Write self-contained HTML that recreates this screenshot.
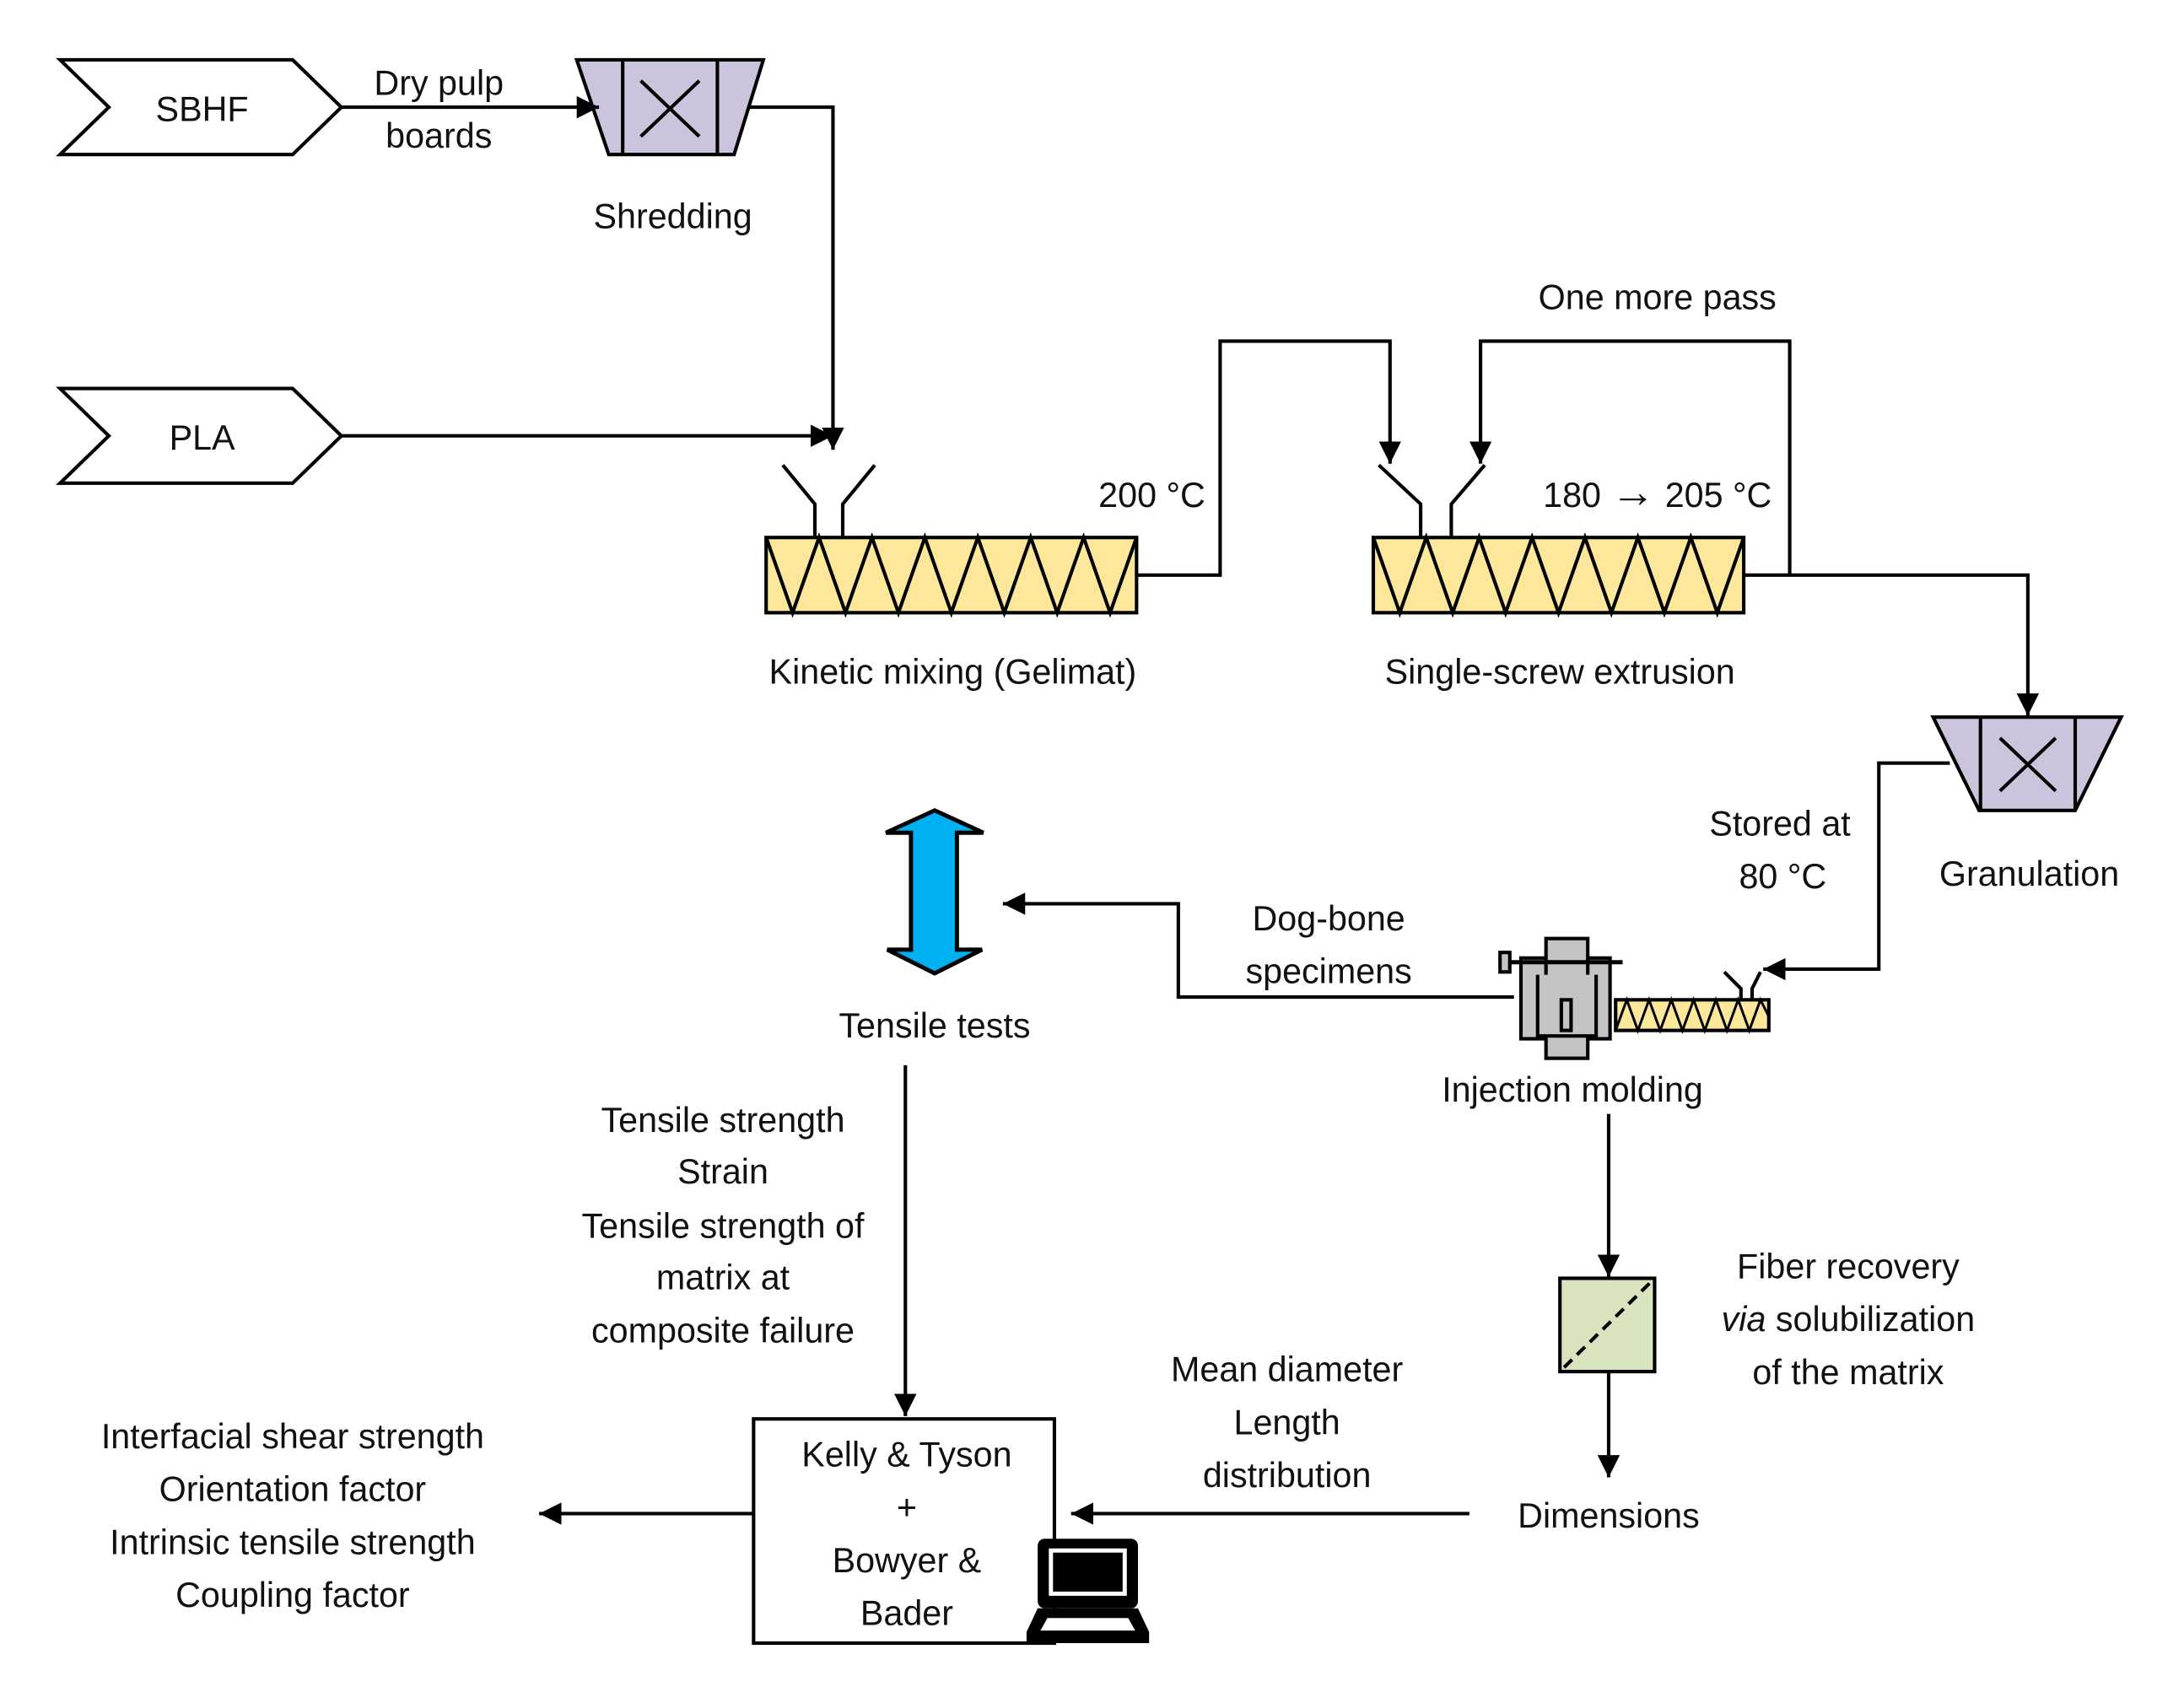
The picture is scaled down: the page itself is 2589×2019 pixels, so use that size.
<!DOCTYPE html>
<html><head><meta charset="utf-8"><style>
html,body{margin:0;padding:0;background:#fff;}
svg{display:block;}
text{font-family:"Liberation Sans",sans-serif;font-size:25px;fill:#111;text-anchor:middle;}
</style></head><body>
<svg width="2589" height="2019" viewBox="0 0 1568 1223" xmlns="http://www.w3.org/2000/svg">
<defs>
<marker id="a" viewBox="0 0 10 10" refX="10" refY="5" markerWidth="16" markerHeight="16" markerUnits="userSpaceOnUse" orient="auto"><path d="M0,0 L10,5 L0,10 z" fill="#000"/></marker>
</defs>
<g stroke="#000" stroke-width="2.5" fill="none">
<polygon points="43,43 210,43 245,77 210,111 43,111 78,77" fill="#fff"/>
<polygon points="43,279 210,279 245,313 210,347 43,347 78,313" fill="#fff"/>
<polygon points="414,43 548,43 527,111 437,111" fill="#ccc3dc"/>
<line x1="447" y1="43" x2="447" y2="111"/><line x1="515" y1="43" x2="515" y2="111"/>
<line x1="460" y1="58" x2="502" y2="98"/><line x1="502" y1="58" x2="460" y2="98"/>
<polygon points="1388,515 1523,515 1490,582 1421,582" fill="#ccc3dc"/>
<line x1="1422" y1="515" x2="1422" y2="582"/><line x1="1490" y1="515" x2="1490" y2="582"/>
<line x1="1436" y1="530" x2="1476" y2="568"/><line x1="1476" y1="530" x2="1436" y2="568"/>
<polyline points="245,77 430,77" marker-end="url(#a)"/>
<polyline points="537,77 598,77 598,323" marker-end="url(#a)"/>
<polyline points="245,313 598,313" marker-end="url(#a)"/>
<polyline points="562,334 585,362 585,386"/><polyline points="628,334 605,362 605,386"/>
<rect x="550" y="386" width="266" height="54" fill="#fde79a"/>
<polyline points="550,386 569,440 588,386 607,440 626,386 645,440 664,386 683,440 702,386 721,440 740,386 759,440 778,386 797,440 816,386"/>
<polyline points="816,413 876,413 876,245 998,245 998,333" marker-end="url(#a)"/>
<polyline points="990,334 1020,362 1020,386"/><polyline points="1066,334 1042,362 1042,386"/>
<rect x="986" y="386" width="266" height="54" fill="#fde79a"/>
<polyline points="986,386 1005,440 1024,386 1043,440 1062,386 1081,440 1100,386 1119,440 1138,386 1157,440 1176,386 1195,440 1214,386 1233,440 1252,386"/>
<polyline points="1285,413 1285,245 1063,245 1063,333" marker-end="url(#a)"/>
<polyline points="1252,413 1456,413 1456,514" marker-end="url(#a)"/>
<polyline points="1400,548 1349,548 1349,696 1266,696" marker-end="url(#a)"/>
<polyline points="1238,698 1250,710 1250,718"/><polyline points="1264,698 1258,710 1258,718"/>
<rect x="1160" y="718" width="110" height="22" fill="#fde79a"/>
<polyline points="1160,740 1168,718 1176,740 1184,718 1192,740 1200,718 1208,740 1216,718 1224,740 1232,718 1240,740 1248,718 1256,740 1264,718 1270,730" stroke-width="1.8"/>
<rect x="1092" y="688" width="64" height="58" fill="#c4c4c4"/>
<rect x="1110" y="674" width="30" height="86" fill="#c4c4c4"/>
<polyline points="1104,700 1104,744 1146,744 1146,700" fill="#c4c4c4"/>
<rect x="1121" y="718" width="7" height="22" fill="#c4c4c4"/>
<line x1="1080" y1="691" x2="1165" y2="691" stroke-width="3"/>
<rect x="1077" y="684" width="7" height="14" fill="#c4c4c4"/>
<polyline points="1087,716 846,716 846,649 720,649" marker-end="url(#a)"/>
<polygon points="671,582 706,598 687,598 687,682 705,682 671,699 637,682 654,682 654,598 636,598" fill="#00b0f0" stroke-width="3"/>
<polyline points="650,765 650,1017" marker-end="url(#a)"/>
<rect x="541" y="1019" width="216" height="161" fill="#fff"/>
<polyline points="541,1087 387,1087" marker-end="url(#a)"/>
<polyline points="1055,1087 769,1087" marker-end="url(#a)"/>
<polyline points="1155,800 1155,917" marker-end="url(#a)"/>
<rect x="1120" y="918" width="68" height="67" fill="#d7e4bd"/>
<line x1="1123" y1="982" x2="1185" y2="921" stroke-dasharray="8,5"/>
<polyline points="1155,985 1155,1061" marker-end="url(#a)"/>
</g>
<g>
<rect x="745" y="1105" width="72" height="50" rx="5" fill="#000"/>
<rect x="753" y="1112" width="56" height="34" fill="#fff"/>
<rect x="756" y="1115" width="50" height="28" fill="#000"/>
<polygon points="745,1155 817,1155 825,1172 825,1180 737,1180 737,1172" fill="#000"/>
<polygon points="752,1162 810,1162 815,1171 747,1171" fill="#fff"/>
</g>
<text x="145" y="87">SBHF</text>
<text x="145" y="323">PLA</text>
<text x="315" y="68">Dry pulp</text>
<text x="315" y="106">boards</text>
<text x="483" y="164">Shredding</text>
<text x="684" y="491">Kinetic mixing (Gelimat)</text>
<text x="827" y="364">200 °C</text>
<text x="1190" y="222">One more pass</text>
<text x="1190" y="364">180 <tspan font-size="32" font-weight="bold">→</tspan> 205 °C</text>
<text x="1120" y="491">Single-screw extrusion</text>
<text x="1457" y="636">Granulation</text>
<text x="1278" y="600">Stored at</text>
<text x="1280" y="638">80 °C</text>
<text x="954" y="668">Dog-bone</text>
<text x="954" y="706">specimens</text>
<text x="1129" y="791">Injection molding</text>
<text x="671" y="745">Tensile tests</text>
<text x="519" y="813">Tensile strength</text>
<text x="519" y="850">Strain</text>
<text x="519" y="889">Tensile strength of</text>
<text x="519" y="926">matrix at</text>
<text x="519" y="964">composite failure</text>
<text x="651" y="1053">Kelly &amp; Tyson</text>
<text x="651" y="1091">+</text>
<text x="651" y="1129">Bowyer &amp;</text>
<text x="651" y="1167">Bader</text>
<text x="210" y="1040">Interfacial shear strength</text>
<text x="210" y="1078">Orientation factor</text>
<text x="210" y="1116">Intrinsic tensile strength</text>
<text x="210" y="1154">Coupling factor</text>
<text x="924" y="992">Mean diameter</text>
<text x="924" y="1030">Length</text>
<text x="924" y="1068">distribution</text>
<text x="1155" y="1097">Dimensions</text>
<text x="1327" y="918">Fiber recovery</text>
<text x="1327" y="956"><tspan font-style="italic">via</tspan> solubilization</text>
<text x="1327" y="994">of the matrix</text>
</svg>
</body></html>
